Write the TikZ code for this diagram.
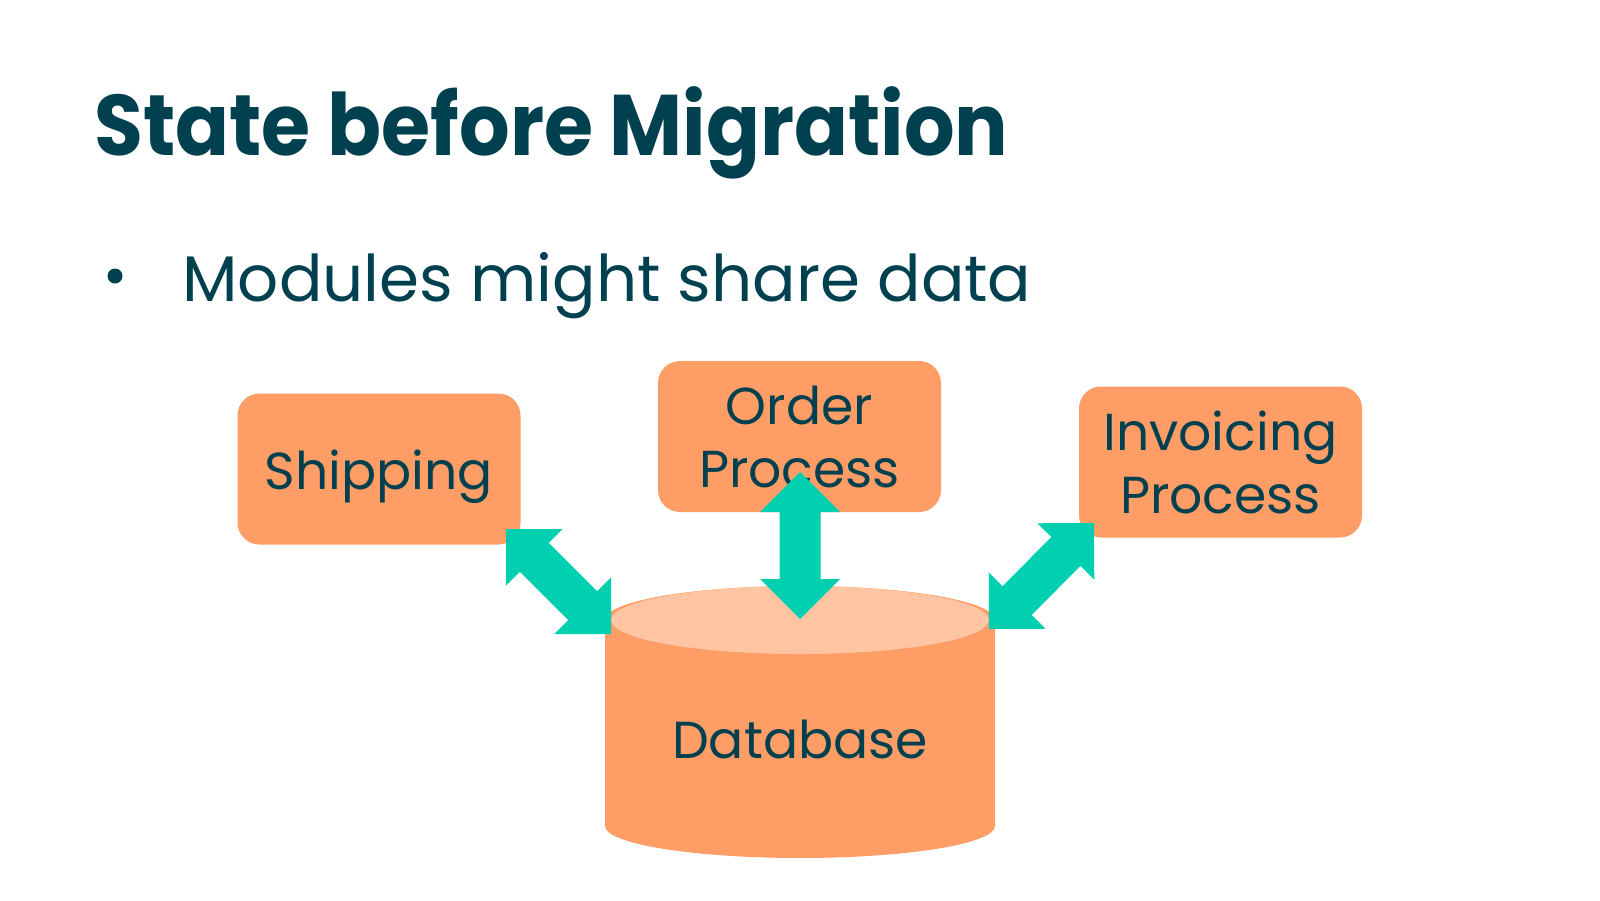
\documentclass[tikz,border=0pt]{standalone}
\usepackage{fontspec}
\setmainfont{Poppins}
\newfontfamily\headfont{Poppins}[FakeStretch=0.925]
\usetikzlibrary{calc}

\definecolor{boxorange}{HTML}{FF9D66}
\definecolor{toplight}{HTML}{FFC4A1}
\definecolor{arrowteal}{HTML}{00D0AF}
\definecolor{inkblue}{HTML}{00404F}

% fat two-headed arrow between two named points
\newcommand\twoway[2]{%
  \fill[arrowteal] (#1)
    -- ($(#1)!20pt!(#2)!20pt!90:(#2)$)
    -- ($(#1)!20pt!(#2)!10.25pt!90:(#2)$)
    -- ($(#2)!20pt!(#1)!10.25pt!-90:(#1)$)
    -- ($(#2)!20pt!(#1)!20pt!-90:(#1)$)
    -- (#2)
    -- ($(#2)!20pt!(#1)!20pt!90:(#1)$)
    -- ($(#2)!20pt!(#1)!10.25pt!90:(#1)$)
    -- ($(#1)!20pt!(#2)!10.25pt!-90:(#2)$)
    -- ($(#1)!20pt!(#2)!20pt!-90:(#2)$)
    -- cycle;}

\begin{document}
\begin{tikzpicture}[x=0.5pt,y=-0.5pt,
  module/.style={fill=boxorange, rounded corners=11pt, minimum width=141.5pt,
    minimum height=75.5pt, inner sep=0pt, align=center, text=inkblue,
    font=\fontsize{26}{31.5}\selectfont}]
\useasboundingbox (0,0) rectangle (1600,900);

\node [anchor=base west, inner sep=0pt, text=inkblue,
  font=\fontsize{43}{50}\headfont\bfseries] (title) at (94,155) {State before Migration};
\node [circle, fill=inkblue, minimum size=7.5pt, inner sep=0pt] (dot) at (115,276) {};
\node [anchor=base west, inner sep=0pt, text=inkblue,
  font=\fontsize{32.2}{40}\selectfont] (point) at (182,301) {Modules might share data};

\node [module] (ship) at (379,469) {\raisebox{-4pt}[\height][\depth]{Shipping}};
\node [module] (order) at (799.5,436.5) {Order\\Process};
\node [module] (inv) at (1220.5,462) {Invoicing\\Process};

% database cylinder
\fill[boxorange] (605,620) -- (605,826)
  arc[start angle=180, end angle=0, x radius=195, y radius=32]
  -- (995,620) arc[start angle=0, end angle=-180, x radius=195, y radius=34] -- cycle;
\fill[toplight] (800,620) ellipse[x radius=189, y radius=34];
\node [anchor=base, inner sep=0pt, text=inkblue,
  font=\fontsize{26}{31.5}\selectfont] (db) at (800,758) {Database};

\coordinate (s1) at (506,529);
\coordinate (s2) at (611,634);
\coordinate (o1) at (800,472);
\coordinate (o2) at (800,619);
\coordinate (i1) at (1094,523);
\coordinate (i2) at (989,629);
\twoway{s1}{s2}
\twoway{o1}{o2}
\twoway{i1}{i2}
\end{tikzpicture}
\end{document}
